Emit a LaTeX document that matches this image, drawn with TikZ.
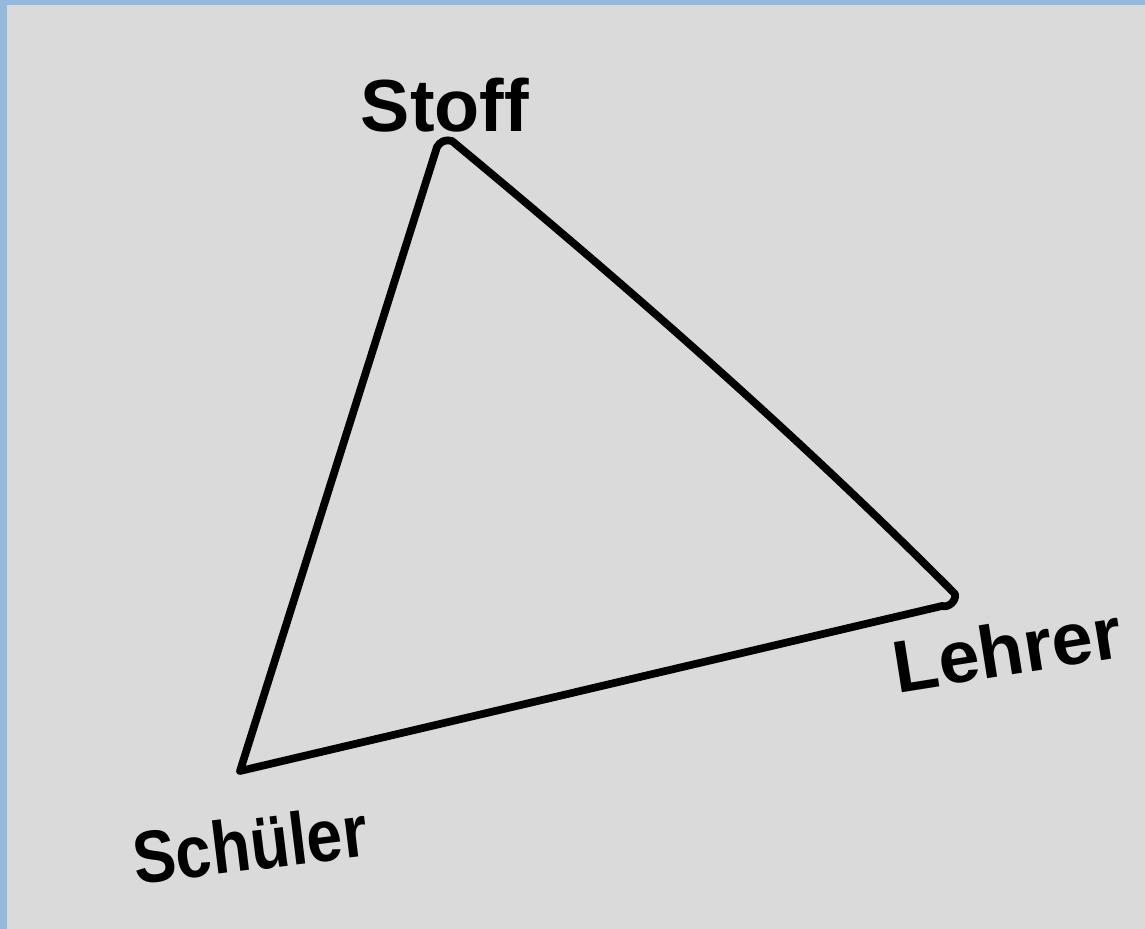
\documentclass[tikz,border=0pt]{standalone}
\usepackage{fontspec}
\setmainfont{Liberation Sans}
\definecolor{frameblue}{HTML}{95B8DD}
\definecolor{paper}{HTML}{DADADA}
\tikzset{
    corner label/.style={font=\fontsize{21}{25}\selectfont\bfseries, inner sep=0pt},
    side/.style={line width=2.2pt, line cap=round, line join=round}
}
\begin{document}
\begin{tikzpicture}
        % Paper with frame
        \fill[frameblue] (0,0) rectangle (11.45,9.29);
        \fill[paper] (0.07,0) rectangle (11.45,9.24);
        \useasboundingbox (0,0) rectangle (11.45,9.29);

        % Corners of the triangle
        \coordinate (stoff) at (4.42,7.86);
        \coordinate (lehrer) at (9.55,3.35);
        \coordinate (schueler) at (2.40,1.58);

        % Labels
        \node[corner label] (stoffL) at (4.45,8.24) {Stoff};
        \node[corner label, rotate=9] (lehrerL) at (10.07,2.80) {Lehrer};
        \node[corner label, rotate=7, xscale=0.87] (schuelerL) at (2.50,0.85) {Schüler};

        % Triangle
        \draw[side] (schueler) -- (4.37,7.82) to[bend left=40] (4.52,7.88)
            .. controls (6.22,6.47) and (7.93,4.98) .. (lehrer)
            to[bend left=60] (9.42,3.23) -- (schueler) -- cycle;
\end{tikzpicture}
\end{document}
